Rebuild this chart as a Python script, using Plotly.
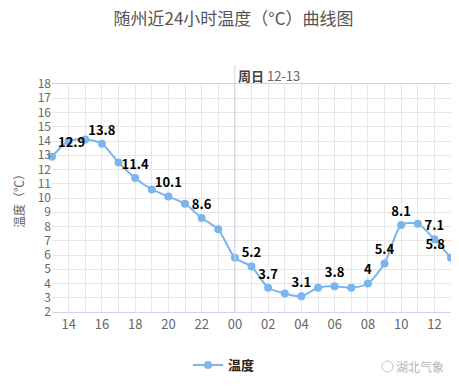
import plotly.graph_objects as go

hours = [13, 14, 15, 16, 17, 18, 19, 20, 21, 22, 23, 0, 1, 2, 3, 4, 5, 6, 7, 8, 9, 10, 11, 12, 13]
temps = [12.9, 14.0, 14.1, 13.8, 12.5, 11.4, 10.6, 10.1, 9.6, 8.6, 7.8, 5.8, 5.2, 3.7, 3.3, 3.1,
         3.7, 3.8, 3.7, 4.0, 5.4, 8.1, 8.2, 7.1, 5.8]
label_idx = [0, 3, 5, 7, 9, 12, 13, 15, 17, 19, 20, 21, 23, 24]
tick_labels = [f"{h:02d}" if h % 2 == 0 else "" for h in hours]
y_ticks = list(range(2, 19))
title_text = "随州近24小时温度（°C）曲线图"
ytitle = "温度（℃）"
series_name = "温度"
plotline_label = "<b><span style='color:#444444'>周日</span></b> 12-13"
watermark = "湖北气象"

x = list(range(len(hours)))
texts = [(f"<b>{v:g}</b>" if i in label_idx else "") for i, v in enumerate(temps)]
positions = ["top center"] * len(temps)
positions[0] = "top right"
positions[-1] = "top left"

FONT = "Noto Sans CJK SC, Microsoft YaHei, sans-serif"
COLOR = "#7cb5ec"
OFF = 8  # page body margin
W, H = 459 - OFF, 387 - OFF
L, R, T, B = 52 - OFF, 8, 84 - OFF, 75
PW, PH = W - L - R, H - T - B


def px(xr):  # reference pixel x -> paper x
    return (xr - OFF - L) / PW


def py(yr):  # reference pixel y -> paper y
    return (H - (yr - OFF) - B) / PH


fig = go.Figure()
fig.add_trace(go.Scatter(
    x=x, y=temps, mode="lines+markers+text", name=series_name,
    line=dict(color=COLOR, width=2, shape="spline", smoothing=0.7),
    marker=dict(color=COLOR, size=8),
    text=texts, textposition=positions,
    textfont=dict(family=FONT, size=13, color="#000000"),
    cliponaxis=False,
))

# midnight plot line
mid = hours.index(0)
fig.add_shape(type="line", xref="x", yref="paper", x0=mid, x1=mid, y0=0, y1=py(65),
              line=dict(color="#ccd6eb", width=1))
fig.add_annotation(x=mid, xref="x", yref="paper", y=py(76), text=plotline_label,
                   showarrow=False, xanchor="left", yanchor="middle", xshift=1,
                   font=dict(family=FONT, size=13, color="#666666"))

# y-axis title
fig.add_annotation(x=px(18), y=0.5, xref="paper", yref="paper", text=ytitle,
                   showarrow=False, textangle=-90, xanchor="center", yanchor="middle",
                   font=dict(family=FONT, size=12, color="#666666"))

# watermark
fig.add_annotation(x=px(446), y=py(366), xref="paper", yref="paper",
                   text=watermark, showarrow=False, xanchor="right", yanchor="middle",
                   font=dict(family=FONT, size=12, color="#b5b5b5"))
fig.add_shape(type="circle", xref="paper", yref="paper",
              x0=px(382), x1=px(393), y0=py(372), y1=py(361),
              line=dict(color="#c0c0c0", width=1))

fig.update_layout(
    width=W, height=H,
    margin=dict(l=L, r=R, t=T, b=B, autoexpand=False),
    paper_bgcolor="white", plot_bgcolor="white",
    title=dict(text=title_text, x=0.5, xanchor="center", y=1 - (19 - OFF) / H, yanchor="middle",
               font=dict(family=FONT, size=17, color="#555555")),
    showlegend=True,
    legend=dict(orientation="h", x=px(188), xanchor="left", y=py(365), yanchor="middle",
                font=dict(family=FONT, size=13, color="#222222", weight="bold"), itemwidth=30),
    font=dict(family=FONT),
)
fig.update_xaxes(
    range=[0, len(hours) - 1], tickmode="array", tickvals=x, ticktext=tick_labels,
    showgrid=True, gridcolor="#e6e6e6", gridwidth=1,
    showline=True, linecolor="#ccd6eb", mirror=True, ticks="", automargin=False,
    tickfont=dict(family=FONT, size=13, color="#666666"), zeroline=False,
)
fig.update_yaxes(
    range=[2, 18], tickmode="array", tickvals=y_ticks,
    showgrid=True, gridcolor="#e6e6e6", gridwidth=1, zeroline=False,
    showline=False, ticks="", automargin=False,
    tickfont=dict(family=FONT, size=12, color="#666666"),
)

fig.write_html("out.html")
